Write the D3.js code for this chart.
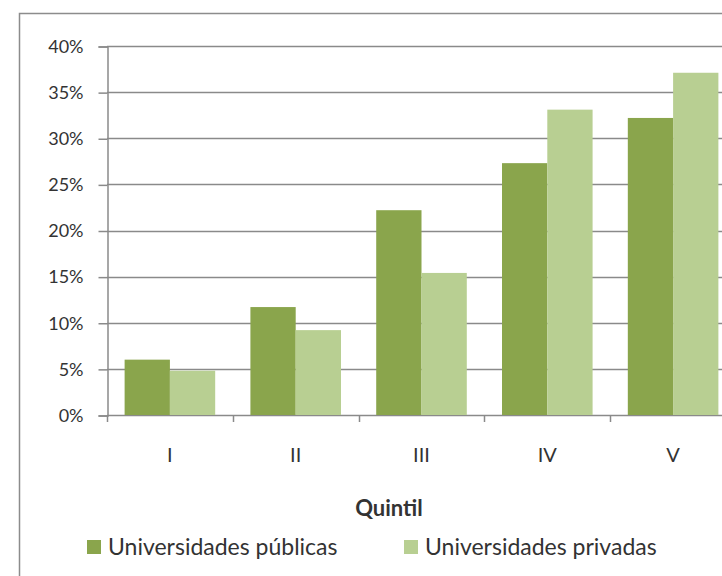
<!DOCTYPE html>
<html>
<head>
<meta charset="utf-8">
<script src="https://cdn.jsdelivr.net/npm/d3@7"></script>
<style>
  body { margin: 0; background: #fff; }
  text { font-family: Lato, "Open Sans", sans-serif; fill: #333; }
</style>
</head>
<body>
<div id="chart"></div>
<script>
var quintiles = ["I", "II", "III", "IV", "V"]
var seriesNames = ["Universidades públicas", "Universidades privadas"]
var publicas = [0.060, 0.117, 0.222, 0.273, 0.322]
var privadas = [0.048, 0.092, 0.154, 0.331, 0.371]
var yTicks = [0, 0.05, 0.10, 0.15, 0.20, 0.25, 0.30, 0.35, 0.40]
var colors = ["#8aa54c", "#b8cf92"]

var widthSvg = 722
var heightSvg = 576
var plot = { left: 107, right: 736, top: 46, bottom: 415 }

var svg = d3.select("#chart").append("svg")
  .attr("width", widthSvg)
  .attr("height", heightSvg)

// outer chart frame (runs off the right and bottom edge)
svg.append("rect")
  .attr("x", 19.5)
  .attr("y", 13.5)
  .attr("width", 760)
  .attr("height", 620)
  .attr("fill", "#fff")
  .attr("stroke", "#8c8c8c")
  .attr("stroke-width", 1.5)

var yScale = d3.scaleLinear()
  .domain([0, 0.4])
  .range([plot.bottom, plot.top])

var x0 = d3.scaleBand()
  .domain(quintiles)
  .range([plot.left, plot.right])

var gap = x0.bandwidth() * 0.28
var x1 = d3.scaleBand()
  .domain(seriesNames)
  .range([gap / 2, x0.bandwidth() - gap / 2])

// gridlines
svg.append("g")
  .attr("class", "grid")
  .selectAll("line")
  .data(yTicks)
  .enter().append("line")
  .attr("x1", plot.left)
  .attr("x2", plot.right)
  .attr("y1", function(d) { return Math.round(yScale(d)) + 0.5 })
  .attr("y2", function(d) { return Math.round(yScale(d)) + 0.5 })
  .attr("stroke", "#8a8a8a")
  .attr("stroke-width", 1.5)

// bars
var rows = quintiles.map(function(q, i) {
  return { q: q, values: [publicas[i], privadas[i]] }
})

svg.append("g")
  .selectAll("g")
  .data(rows)
  .enter().append("g")
  .attr("transform", function(d) { return "translate(" + x0(d.q) + ",0)" })
  .selectAll("rect")
  .data(function(d) { return d.values.map(function(v, i) { return { s: seriesNames[i], v: v, i: i } }) })
  .enter().append("rect")
  .attr("x", function(d) { return x1(d.s) })
  .attr("width", x1.bandwidth())
  .attr("y", function(d) { return yScale(d.v) })
  .attr("height", function(d) { return plot.bottom - yScale(d.v) })
  .attr("fill", function(d) { return colors[d.i] })

// y axis
var yAxis = d3.axisLeft(yScale)
  .tickValues(yTicks)
  .tickFormat(d3.format(".0%"))
  .tickSize(9)
  .tickPadding(15)

var yG = svg.append("g")
  .attr("transform", "translate(" + (plot.left + 0.5) + ",0.5)")
  .call(yAxis)
yG.select(".domain").attr("stroke", "#8a8a8a").attr("stroke-width", 1.5)
yG.selectAll(".tick line").attr("stroke", "#8a8a8a").attr("stroke-width", 1.5)
yG.selectAll(".tick text")
  .style("font-size", "18px")
  .style("font-family", "Lato, sans-serif")
  .attr("fill", "#333")

// x axis: labels centred, ticks on the category boundaries
var xAxis = d3.axisBottom(x0).tickSize(0).tickPadding(33)
var xG = svg.append("g")
  .attr("transform", "translate(0," + plot.bottom + ")")
  .call(xAxis)
xG.select(".domain").remove()
xG.selectAll(".tick text")
  .style("font-size", "20px")
  .style("font-family", "Lato, sans-serif")
  .attr("fill", "#333")

var boundaries = quintiles.map(function(q) { return x0(q) }).concat([plot.right])
svg.append("g")
  .selectAll("line")
  .data(boundaries)
  .enter().append("line")
  .attr("x1", function(d) { return Math.round(d) + 0.5 })
  .attr("x2", function(d) { return Math.round(d) + 0.5 })
  .attr("y1", plot.bottom)
  .attr("y2", plot.bottom + 7)
  .attr("stroke", "#8a8a8a")
  .attr("stroke-width", 1.5)

// axis title
svg.append("text")
  .attr("x", 389)
  .attr("y", 516)
  .attr("text-anchor", "middle")
  .style("font-size", "22px")
  .style("font-weight", "bold")
  .attr("fill", "#222")
  .text("Quintil")

// legend
var legendX = [87, 404]
var legend = svg.append("g")
  .selectAll("g")
  .data(seriesNames)
  .enter().append("g")
  .attr("transform", function(d, i) { return "translate(" + legendX[i] + ",547)" })

legend.append("rect")
  .attr("x", 0)
  .attr("y", -7)
  .attr("width", 14)
  .attr("height", 14)
  .attr("fill", function(d, i) { return colors[i] })

legend.append("text")
  .attr("x", 21)
  .attr("y", 8)
  .style("font-size", "23px")
  .text(function(d) { return d })
</script>
</body>
</html>
